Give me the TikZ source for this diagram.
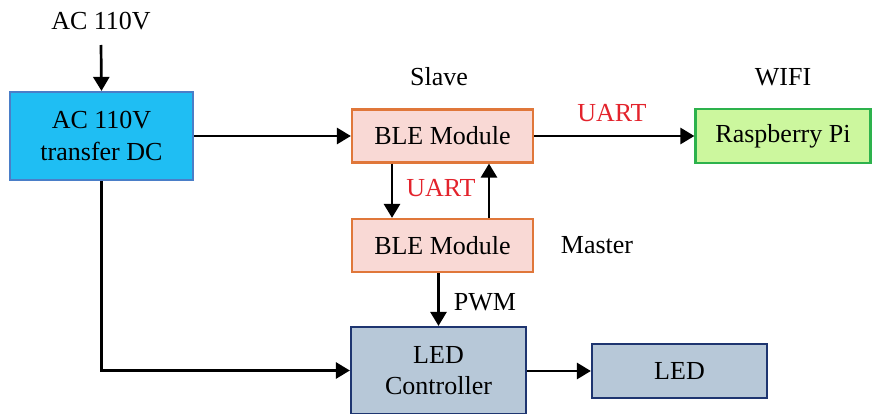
\documentclass[tikz,border=0pt]{standalone}
\usepackage{fontspec}
\setmainfont{Liberation Serif}
\usepackage{tikz}
\usetikzlibrary{arrows.meta}

\definecolor{convfill}{HTML}{1FBEF3}
\definecolor{convline}{HTML}{4A7EC8}
\definecolor{blefill}{HTML}{F9D9D5}
\definecolor{bleline}{HTML}{E0773A}
\definecolor{pifill}{HTML}{CCF79E}
\definecolor{piline}{HTML}{2DB24C}
\definecolor{ledfill}{HTML}{B7C8D8}
\definecolor{ledline}{HTML}{1E3570}
\definecolor{uartred}{HTML}{E3232C}

\begin{document}
\begin{tikzpicture}[x=1pt,y=-1pt,
        font=\fontsize{26}{31}\selectfont,
        box/.style={draw,line width=2.2pt,align=center,inner sep=0pt},
        conv/.style={box,fill=convfill,draw=convline,minimum width=183,minimum height=88},
        ble/.style={box,fill=blefill,draw=bleline,minimum width=181,minimum height=53},
        pi/.style={box,fill=pifill,draw=piline,minimum width=175,minimum height=54},
        ledbox/.style={box,fill=ledfill,draw=ledline},
        wire/.style={line width=2.7pt,-{Triangle[length=14pt,width=16pt]}},
        redlabel/.style={text=uartred}]
        \useasboundingbox (0,0) rectangle (873,414);

        % blocks
        \node (acin) at (101,21) {AC 110V};
        \node[conv] (conv) at (101.5,136) {AC 110V\\[1pt]transfer DC};
        \node[ble] (slave) at (442.5,136) {BLE Module};
        \node[ble] (master) at (442.5,245.5) {BLE Module};
        \node[pi] (pi) at (783,136) {Raspberry Pi};
        \node[ledbox,minimum width=175,minimum height=87] (ctrl) at (438.5,370.5) {LED\\Controller};
        \node[ledbox,minimum width=175,minimum height=54] (led) at (679.5,371) {LED};

        % labels
        \node (slavetxt) at (439,77) {Slave};
        \node (wifitxt) at (783,77) {WIFI};
        \node (mastertxt) at (597,245) {Master};
        \node[redlabel] (uarttop) at (612,113) {UART};
        \node[redlabel] (uartmid) at (441,188) {UART};
        \node (pwmtxt) at (485,302) {PWM};

        % connectors
        \coordinate (acstart) at (101,45);
        \draw[wire] (acstart) -- (conv.north);
        \draw[wire] (conv.east) -- (slave.west);
        \draw[wire] (slave.east) -- (pi.west);
        \draw[wire] ([xshift=-50.5]slave.south) -- ([xshift=-50.5]master.north);
        \draw[wire] ([xshift=46.5]master.north) -- ([xshift=46.5]slave.south);
        \draw[wire] (master.south -| ctrl.north) -- (ctrl.north);
        \draw[wire] (conv.south) |- (ctrl.west);
        \draw[wire] (ctrl.east |- led.west) -- (led.west);
\end{tikzpicture}
\end{document}
